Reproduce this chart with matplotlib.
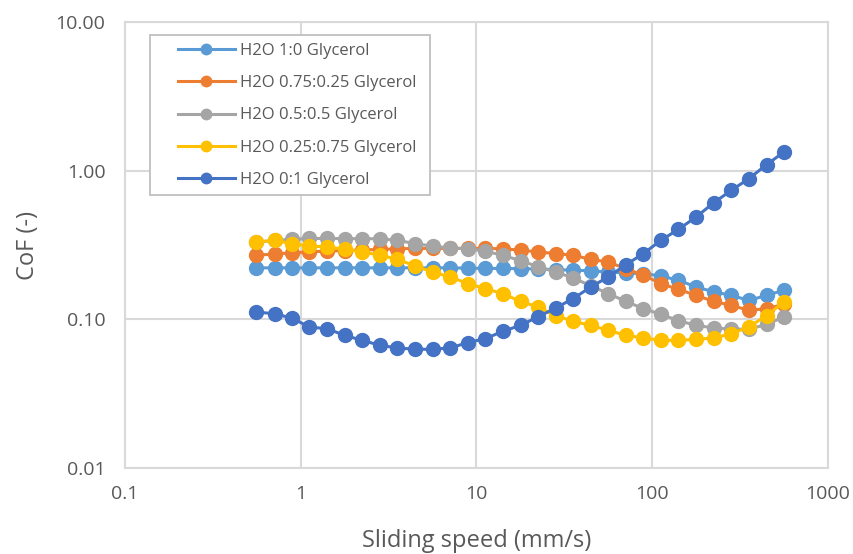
import matplotlib
matplotlib.use('Agg')
import matplotlib.pyplot as plt
from matplotlib.patches import Rectangle
from matplotlib.ticker import FixedLocator, NullLocator

# sliding speed (mm/s)
speed = [0.56, 0.71, 0.89, 1.12, 1.41, 1.78, 2.24, 2.82, 3.55, 4.47, 5.62,
         7.08, 8.91, 11.2, 14.1, 17.8, 22.4, 28.2, 35.5, 44.7, 56.2, 70.8,
         89.1, 112, 141, 178, 224, 282, 355, 447, 562]

# CoF readings
cof_1_0 = [0.222, 0.222, 0.222, 0.222, 0.222, 0.222, 0.222, 0.222, 0.222, 0.222,
           0.222, 0.222, 0.221, 0.220, 0.220, 0.219, 0.218, 0.216, 0.214, 0.212,
           0.208, 0.205, 0.203, 0.196, 0.183, 0.165, 0.153, 0.145, 0.134, 0.145, 0.157]
cof_075_025 = [0.270, 0.275, 0.280, 0.284, 0.288, 0.290, 0.293, 0.295, 0.298, 0.300,
               0.300, 0.300, 0.300, 0.300, 0.298, 0.292, 0.284, 0.277, 0.270, 0.253,
               0.243, 0.219, 0.198, 0.174, 0.159, 0.145, 0.132, 0.124, 0.115, 0.118, 0.126]
cof_05_05 = [0.330, 0.340, 0.345, 0.350, 0.350, 0.349, 0.349, 0.348, 0.340, 0.323,
             0.311, 0.302, 0.299, 0.287, 0.270, 0.248, 0.226, 0.208, 0.190, 0.168,
             0.149, 0.132, 0.118, 0.108, 0.098, 0.091, 0.0875, 0.0859, 0.0859, 0.0924, 0.104]
cof_025_075 = [0.331, 0.340, 0.323, 0.311, 0.307, 0.296, 0.284, 0.270, 0.253, 0.229,
               0.208, 0.193, 0.174, 0.161, 0.149, 0.132, 0.121, 0.106, 0.097, 0.091,
               0.0844, 0.078, 0.0749, 0.0722, 0.0722, 0.0734, 0.0749, 0.080, 0.089, 0.106, 0.131]
cof_0_1 = [0.112, 0.109, 0.102, 0.0887, 0.0865, 0.078, 0.0722, 0.0669, 0.0642, 0.0629,
           0.0629, 0.0642, 0.0697, 0.0741, 0.0830, 0.0911, 0.104, 0.119, 0.138, 0.165,
           0.193, 0.233, 0.277, 0.340, 0.403, 0.489, 0.609, 0.738, 0.884, 1.097, 1.336]

series = [
    ('H2O 1:0 Glycerol', cof_1_0, '#5B9BD5'),
    ('H2O 0.75:0.25 Glycerol', cof_075_025, '#ED7D31'),
    ('H2O 0.5:0.5 Glycerol', cof_05_05, '#A5A5A5'),
    ('H2O 0.25:0.75 Glycerol', cof_025_075, '#FFC000'),
    ('H2O 0:1 Glycerol', cof_0_1, '#4472C4'),
]

plt.rcParams['font.family'] = ['Open Sans', 'DejaVu Sans']
W, H = 854, 554

fig = plt.figure(figsize=(W / 100, H / 100), dpi=100)
ax = fig.add_axes([125 / W, 1 - 468 / H, 703 / W, 446 / H])

for name, vals, col in series:
    ax.plot(speed, vals, color=col, lw=2.2, marker='o', ms=10, label=name)

ax.set_xscale('log')
ax.set_yscale('log')
ax.set_xlim(0.1, 1000)
ax.set_ylim(0.01, 10)

ax.xaxis.set_major_locator(FixedLocator([0.1, 1, 10, 100, 1000]))
ax.yaxis.set_major_locator(FixedLocator([0.01, 0.1, 1, 10]))
ax.xaxis.set_minor_locator(NullLocator())
ax.yaxis.set_minor_locator(NullLocator())
ax.set_xticklabels(['0.1', '1', '10', '100', '1000'])
ax.set_yticklabels(['0.01', '0.10', '1.00', '10.00'])
ax.tick_params(axis='x', length=0, labelsize=14, labelcolor='#595959', pad=12)
ax.tick_params(axis='y', length=0, labelsize=14, labelcolor='#595959', pad=14)

ax.grid(True, color='#D9D9D9', lw=1.5)
ax.set_axisbelow(True)
for s in ax.spines.values():
    s.set_color('#D9D9D9')
    s.set_linewidth(1.5)

ax.set_xlabel('Sliding speed (mm/s)', fontsize=17, color='#595959', labelpad=19)
ax.set_ylabel('CoF (-)', fontsize=17, color='#595959', labelpad=11)

# legend box drawn separately so the entries can sit indented like Excel
box = Rectangle((150 / W, 1 - 195 / H), 280 / W, 160 / H,
                transform=fig.transFigure, facecolor='white',
                edgecolor='#BFBFBF', lw=1.3, zorder=4)
ax.add_patch(box)
leg = ax.legend(loc='upper left', bbox_to_anchor=(178 / W, 1 - 43 / H),
                bbox_transform=fig.transFigure, fontsize=12, frameon=False,
                labelcolor='#595959', handlelength=3.4, handletextpad=0.3,
                markerscale=0.75, borderpad=0, borderaxespad=0, labelspacing=0.97)
leg.set_zorder(5)

fig.savefig('out.png', dpi=100)
